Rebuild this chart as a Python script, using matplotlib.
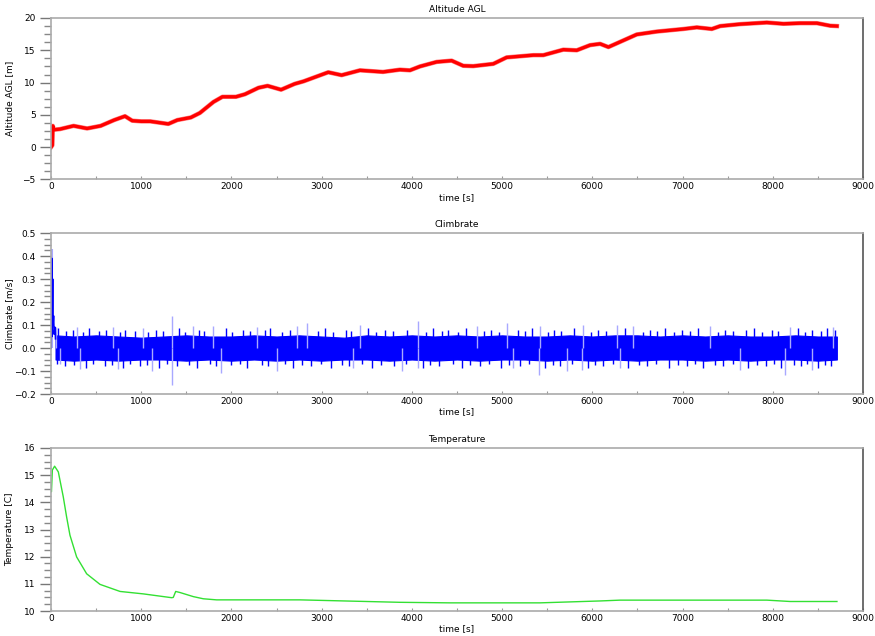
import matplotlib
matplotlib.use("Agg")
import matplotlib.pyplot as plt
from matplotlib.ticker import MultipleLocator, AutoMinorLocator

# Altitude AGL [m]
alt_t = [0, 15, 20, 30, 100, 250, 400, 550, 700, 820, 900, 1000, 1100, 1300, 1400,
         1550, 1650, 1800, 1900, 2050, 2150, 2300, 2400, 2550, 2700, 2800, 3073,
         3221, 3424, 3680, 3867, 3978, 4089, 4274, 4440, 4569, 4680, 4902, 5050,
         5346, 5457, 5679, 5827, 5975, 6086, 6178, 6307, 6492, 6714, 7010, 7158,
         7324, 7417, 7638, 7934, 8119, 8304, 8489, 8637, 8711]
alt_v = [0.0, 0.3, 3.3, 2.7, 2.8, 3.3, 2.9, 3.3, 4.2, 4.8, 4.1, 4.0, 4.0, 3.6, 4.2,
         4.6, 5.3, 7.0, 7.8, 7.8, 8.2, 9.2, 9.5, 8.9, 9.8, 10.2, 11.6,
         11.15, 11.9, 11.65, 12.0, 11.9, 12.5, 13.2, 13.4, 12.6, 12.55, 12.9, 13.9,
         14.25, 14.25, 15.1, 15.0, 15.8, 16.0, 15.5, 16.3, 17.45, 17.9, 18.3, 18.55,
         18.3, 18.75, 19.05, 19.3, 19.1, 19.2, 19.2, 18.8, 18.75]

# Climbrate [m/s]: dense noise band, given as its core envelope
cr_t = [50, 250, 500, 750, 1000, 1250, 1500, 1750, 2000, 2250, 2500, 2750, 3000,
        3250, 3500, 3750, 4000, 4250, 4500, 4750, 5000, 5250, 5500, 5750, 6000,
        6250, 6500, 6750, 7000, 7250, 7500, 7750, 8000, 8250, 8500, 8710]
cr_hi = [0.055, 0.05, 0.055, 0.05, 0.045, 0.05, 0.055, 0.05, 0.05, 0.055, 0.05, 0.055,
         0.05, 0.045, 0.055, 0.05, 0.055, 0.05, 0.055, 0.05, 0.055, 0.05, 0.05, 0.055,
         0.05, 0.055, 0.055, 0.05, 0.055, 0.05, 0.055, 0.05, 0.05, 0.055, 0.05, 0.05]
cr_lo = [-0.05, -0.055, -0.05, -0.055, -0.05, -0.05, -0.055, -0.05, -0.055, -0.05, -0.055, -0.05,
         -0.055, -0.05, -0.05, -0.055, -0.05, -0.055, -0.05, -0.055, -0.05, -0.05, -0.055, -0.05,
         -0.055, -0.05, -0.055, -0.05, -0.05, -0.055, -0.05, -0.055, -0.05, -0.05, -0.055, -0.05]
# start-up transient
cr0_t = [0, 8, 12, 18, 22, 28, 35, 45, 50]
cr0_v = [0.0, 0.39, 0.05, 0.30, 0.10, 0.14, 0.06, 0.09, 0.04]
cr0_peak = 0.43
# dark jags along the edges of the band
jag_up_t = [80, 170, 240, 360, 420, 530, 610, 760, 820, 930, 1080, 1160, 1240, 1420, 1480,
            1640, 1700, 1940, 2010, 2130, 2200, 2370, 2430, 2560, 2650, 2960, 3040, 3130,
            3270, 3330, 3510, 3600, 3700, 3790, 3950, 4160, 4230, 4330, 4400, 4510, 4600,
            4800, 4880, 4960, 5180, 5250, 5330, 5510, 5580, 5650, 5800, 5990, 6060, 6150,
            6360, 6560, 6640, 6720, 6810, 6900, 6990, 7080, 7170, 7390, 7470, 7560, 7700,
            7790, 7880, 7990, 8060, 8280, 8360, 8440, 8530, 8600, 8690]
jag_up_v = [0.085, 0.075, 0.08, 0.07, 0.085, 0.075, 0.08, 0.07, 0.08, 0.075, 0.07, 0.08,
            0.075, 0.085, 0.07, 0.08, 0.075, 0.085, 0.07, 0.08, 0.075, 0.08, 0.085, 0.07,
            0.08, 0.075, 0.085, 0.07, 0.08, 0.075, 0.085, 0.07, 0.08, 0.075, 0.08, 0.07,
            0.085, 0.075, 0.08, 0.07, 0.085, 0.075, 0.08, 0.07, 0.08, 0.075, 0.085, 0.07,
            0.08, 0.075, 0.085, 0.07, 0.08, 0.075, 0.085, 0.07, 0.08, 0.075, 0.085, 0.07,
            0.08, 0.075, 0.085, 0.07, 0.08, 0.075, 0.08, 0.085, 0.07, 0.08, 0.075, 0.085,
            0.07, 0.08, 0.075, 0.085, 0.08]
jag_dn_t = [70, 150, 260, 390, 470, 600, 680, 800, 880, 990, 1060, 1200, 1290, 1400, 1530,
            1620, 1760, 1830, 1990, 2090, 2170, 2340, 2410, 2590, 2680, 2780, 2880, 2990,
            3100, 3220, 3300, 3450, 3560, 3660, 3800, 3930, 4120, 4200, 4300, 4460, 4550,
            4640, 4760, 4850, 4990, 5080, 5200, 5300, 5480, 5560, 5640, 5780, 5950, 6030,
            6120, 6230, 6400, 6520, 6610, 6700, 6850, 6950, 7050, 7140, 7230, 7360, 7450,
            7560, 7730, 7820, 7920, 8010, 8090, 8230, 8310, 8380, 8500, 8580, 8650]
jag_dn_v = [-0.07, -0.08, -0.075, -0.085, -0.07, -0.08, -0.075, -0.085, -0.07, -0.08,
            -0.075, -0.085, -0.07, -0.08, -0.075, -0.085, -0.07, -0.08, -0.075, -0.07,
            -0.085, -0.075, -0.08, -0.07, -0.085, -0.075, -0.08, -0.07, -0.085, -0.075,
            -0.08, -0.07, -0.085, -0.075, -0.08, -0.07, -0.085, -0.075, -0.08, -0.07,
            -0.085, -0.075, -0.08, -0.07, -0.085, -0.075, -0.08, -0.07, -0.085, -0.075,
            -0.08, -0.07, -0.085, -0.075, -0.08, -0.07, -0.085, -0.075, -0.08, -0.07,
            -0.085, -0.075, -0.08, -0.07, -0.085, -0.075, -0.08, -0.07, -0.085, -0.075,
            -0.08, -0.07, -0.085, -0.075, -0.08, -0.07, -0.085, -0.075, -0.08]
# single faint spikes sticking out of the band
up_t = [60, 284, 687, 1019, 1344, 1577, 1799, 2279, 2722, 2840, 3425, 4071, 4718, 5050,
        5420, 5900, 6271, 6455, 7304, 8191, 8671]
up_v = [0.09, 0.091, 0.093, 0.088, 0.14, 0.095, 0.097, 0.09, 0.097, 0.107, 0.10, 0.119,
        0.097, 0.107, 0.094, 0.10, 0.10, 0.097, 0.094, 0.09, 0.09]
dn_t = [100, 321, 747, 1116, 1344, 1880, 2500, 3350, 3886, 4071, 5124, 5408, 5715, 5882,
        6307, 7637, 8136, 8432]
dn_v = [-0.07, -0.091, -0.09, -0.10, -0.16, -0.107, -0.10, -0.087, -0.10, -0.087, -0.087,
        -0.116, -0.10, -0.095, -0.087, -0.095, -0.116, -0.095]

# Temperature [C]
tmp_t = [0, 5, 15, 40, 81, 136, 173, 210, 284, 395, 543, 765, 1023, 1337, 1355, 1382,
         1430, 1577, 1688, 1836, 2760, 3867, 4420, 5420, 6086, 6307, 7934, 8193, 8711]
tmp_v = [14.4, 14.39, 15.19, 15.33, 15.12, 14.2, 13.46, 12.79, 11.99, 11.37, 10.98, 10.72,
         10.63, 10.49, 10.5, 10.72, 10.68, 10.53, 10.45, 10.41, 10.41, 10.32, 10.30, 10.30,
         10.37, 10.40, 10.40, 10.35, 10.35]

plt.rcParams["font.family"] = "DejaVu Sans"
fig = plt.figure(figsize=(8.75, 6.36), dpi=100)

boxes = [[0.0583, 0.7178, 0.928, 0.2539],
         [0.0583, 0.3805, 0.928, 0.2531],
         [0.0583, 0.0393, 0.928, 0.2563]]
axs = [fig.add_axes(b) for b in boxes]


def style(ax, ylo, yhi, ystep, title, ylabel, fmt=None):
    ax.set_xlim(0, 9000)
    ax.set_ylim(ylo, yhi)
    ax.xaxis.set_major_locator(MultipleLocator(1000))
    ax.xaxis.set_minor_locator(MultipleLocator(500))
    ax.yaxis.set_major_locator(MultipleLocator(ystep))
    ax.yaxis.set_minor_locator(AutoMinorLocator(4))
    if fmt:
        ax.yaxis.set_major_formatter(fmt)
    ax.tick_params(axis="y", which="major", direction="out", length=8, width=1,
                   color="#777777", labelsize=6.5, pad=3)
    ax.tick_params(axis="y", which="minor", direction="out", length=5, width=1,
                   color="#888888")
    ax.tick_params(axis="x", which="both", direction="in", length=2, width=0.8,
                   color="#999999", labelsize=6.5, pad=2)
    for s in ["top", "left", "bottom"]:
        ax.spines[s].set_color("#aaaaaa")
        ax.spines[s].set_linewidth(1.2)
    ax.spines["right"].set_color("#555555")
    ax.spines["right"].set_linewidth(1.2)
    ax.set_title(title, fontsize=6.5, pad=4)
    ax.set_xlabel("time [s]", fontsize=6.5, labelpad=1)
    ax.set_ylabel(ylabel, fontsize=6.5)
    ax.yaxis.set_label_coords(-0.045, 0.5)


ax = axs[0]
ax.plot(alt_t, alt_v, color="#ff8080", lw=3.2, solid_joinstyle="round")
ax.plot(alt_t, alt_v, color="red", lw=2.4, solid_joinstyle="round")
style(ax, -5, 20, 5, "Altitude AGL", "Altitude AGL [m]")

ax = axs[1]
ax.vlines(up_t, 0, up_v, color="#a8a8ff", lw=1.0)
ax.vlines(dn_t, dn_v, 0, color="#a8a8ff", lw=1.0)
ax.vlines([10], 0, [cr0_peak], color="#a8a8ff", lw=1.5)
ax.vlines(jag_up_t, 0, jag_up_v, color="#0000ff", lw=1.0)
ax.vlines(jag_dn_t, jag_dn_v, 0, color="#0000ff", lw=1.0)
ax.fill_between(cr_t, cr_lo, cr_hi, color="#0000ff", lw=0.8, edgecolor="#0000ff")
ax.plot(cr0_t, cr0_v, color="#0000ff", lw=1.2)
style(ax, -0.2, 0.5, 0.1, "Climbrate", "Climbrate [m/s]", fmt="{x:.1f}")

ax = axs[2]
ax.plot(tmp_t, tmp_v, color="#33e033", lw=1.0)
style(ax, 10, 16, 1, "Temperature", "Temperature [C]")

fig.savefig("out.png", dpi=100)
